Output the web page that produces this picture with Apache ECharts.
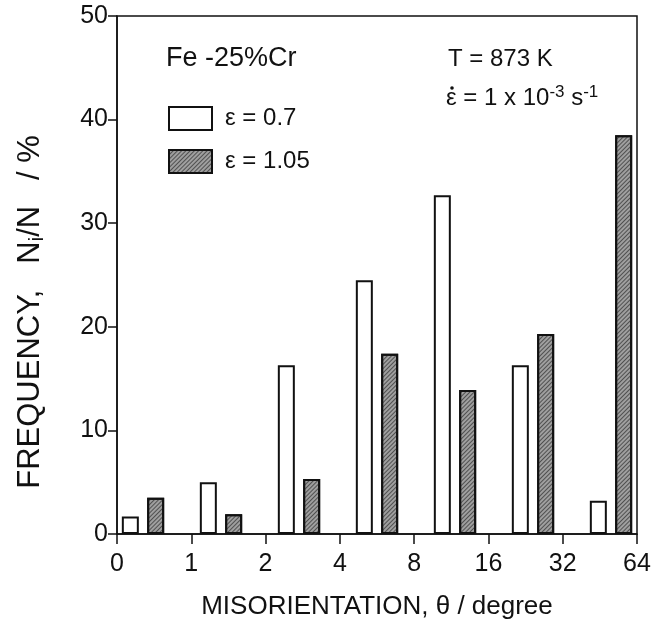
<!DOCTYPE html>
<html>
<head>
<meta charset="utf-8">
<script src="https://cdn.jsdelivr.net/npm/echarts@6/dist/echarts.min.js"></script>
<style>
  html, body { margin: 0; padding: 0; background: #fff; }
  #main { width: 664px; height: 626px; }
</style>
</head>
<body>
<div id="main"></div>
<script>
// tick labels on the misorientation axis (log2 spaced bins)
var tickLabels = ['0', '1', '2', '4', '8', '16', '32', '64'];
// one bin between two ticks
var bins = ['0-1', '1-2', '2-4', '4-8', '8-16', '16-32', '32-64'];
// frequency (%) per bin
var strain07 = [1.7, 5.0, 16.3, 24.5, 32.7, 16.3, 3.2];
var strain105 = [3.5, 1.9, 5.3, 17.4, 13.9, 19.3, 38.5];
var yTicks = [0, 10, 20, 30, 40, 50];

var FONT = 'Liberation Sans, Arial, DejaVu Sans, sans-serif';
var INK = '#111';

var myChart = echarts.init(document.getElementById('main'));

var option = {
    backgroundColor: '#fff',
    animation: false,
    textStyle: { fontFamily: FONT, color: INK },
    grid: [
        // axes + frame
        { left: 117, right: 27, top: 16, bottom: 92, show: true, borderColor: INK, borderWidth: 1.5, backgroundColor: 'transparent' },
        // bars: in the original plot the bar groups run a bit wider than the ticks
        { left: 104, right: 14, top: 16, bottom: 92 }
    ],
    legend: {
        data: ['\u03b5 = 0.7', '\u03b5 = 1.05'],
        orient: 'vertical',
        left: 168,
        top: 106,
        padding: 0,
        itemWidth: 43,
        itemHeight: 23,
        itemGap: 18,
        icon: 'rect',
        textStyle: { fontSize: 24, color: INK, fontFamily: FONT, padding: [0, 0, 0, 8] }
    },
    xAxis: [
        {
            gridIndex: 0,
            type: 'value',
            min: 0,
            max: tickLabels.length - 1,
            interval: 1,
            axisLine: { lineStyle: { color: INK, width: 1.5 } },
            axisTick: { inside: false, length: 10, lineStyle: { color: INK, width: 1.5 } },
            axisLabel: {
                fontSize: 25, color: INK, margin: 18,
                formatter: function (v) { return tickLabels[v]; }
            },
            splitLine: { show: false },
            name: 'MISORIENTATION, \u03b8 / degree',
            nameLocation: 'middle',
            nameGap: 60,
            nameTextStyle: { fontSize: 26, color: INK }
        },
        {
            gridIndex: 1,
            type: 'category',
            data: bins,
            boundaryGap: true,
            show: false
        }
    ],
    yAxis: [
        {
            gridIndex: 0,
            type: 'value',
            min: yTicks[0],
            max: yTicks[yTicks.length - 1],
            interval: 10,
            axisLine: { show: true, lineStyle: { color: INK, width: 1.5 } },
            axisTick: { show: true, inside: false, length: 9, lineStyle: { color: INK, width: 1.5 } },
            axisLabel: { fontSize: 25, color: INK, margin: 9 },
            splitLine: { show: false }
        },
        {
            gridIndex: 1,
            type: 'value',
            min: yTicks[0],
            max: yTicks[yTicks.length - 1],
            show: false,
            splitLine: { show: false }
        }
    ],
    series: [
        {
            name: '\u03b5 = 0.7',
            type: 'bar',
            xAxisIndex: 1,
            yAxisIndex: 1,
            data: strain07,
            barWidth: 17,
            barGap: '49%',
            itemStyle: { color: '#fff', borderColor: INK, borderWidth: 2 }
        },
        {
            name: '\u03b5 = 1.05',
            type: 'bar',
            xAxisIndex: 1,
            yAxisIndex: 1,
            data: strain105,
            barWidth: 17,
            barGap: '49%',
            itemStyle: {
                color: '#9f9f9f',
                borderColor: INK,
                borderWidth: 2,
                decal: {
                    symbol: 'rect',
                    symbolSize: 1,
                    dashArrayX: [1, 0],
                    dashArrayY: [1, 2],
                    rotation: -Math.PI / 4,
                    color: 'rgba(60,60,60,0.8)'
                }
            }
        }
    ],
    graphic: [
        {
            type: 'text',
            x: 30, y: 312,
            rotation: Math.PI / 2,
            style: {
                text: 'FREQUENCY,   N{sub|i}/N   / %',
                font: '31px ' + FONT,
                fill: INK,
                textAlign: 'center',
                textVerticalAlign: 'middle',
                rich: {
                    sub: { fontSize: 20, fontFamily: FONT, fill: INK, padding: [14, 0, 0, 0] }
                }
            }
        },
        {
            type: 'text',
            left: 166, top: 45,
            style: { text: 'Fe -25%Cr', font: '27px ' + FONT, fill: INK }
        },
        {
            type: 'text',
            left: 448, top: 47,
            style: { text: 'T = 873 K', font: '24px ' + FONT, fill: INK }
        },
        {
            type: 'text',
            left: 446, top: 84,
            style: {
                text: '\u03b5 = 1 x 10{sup|-3} s{sup|-1}',
                font: '24px ' + FONT,
                fill: INK,
                rich: {
                    sup: { fontSize: 17, fontFamily: FONT, fill: INK, padding: [0, 0, 12, 0] }
                }
            }
        },
        {
            // dot over epsilon (strain rate)
            type: 'circle',
            shape: { cx: 452, cy: 88, r: 1.8 },
            style: { fill: INK }
        }
    ]
};

myChart.setOption(option);
</script>
</body>
</html>
